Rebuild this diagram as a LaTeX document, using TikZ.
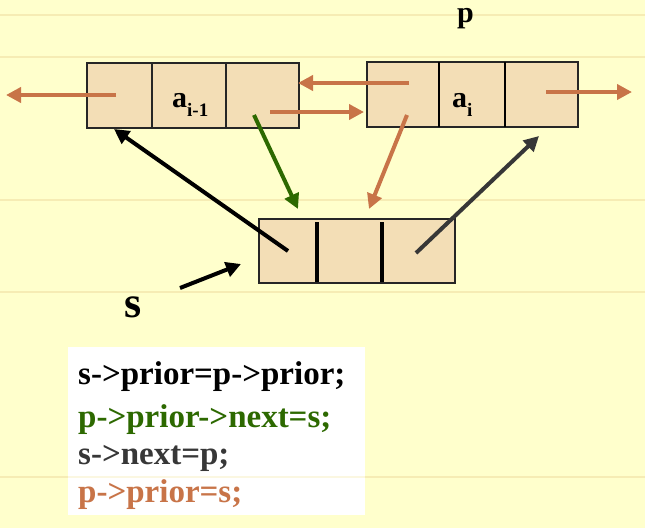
\documentclass[tikz,border=0pt]{standalone}
\usepackage{fontspec}
\setmainfont{Liberation Serif}[BoldFont={Liberation Serif Bold}]
\newfontfamily\tbold{Liberation Serif Bold}
\usetikzlibrary{arrows.meta}
\definecolor{bg}{RGB}{255,255,204}
\definecolor{boxfill}{RGB}{243,222,182}
\definecolor{orng}{RGB}{200,116,72}
\definecolor{grn}{RGB}{45,105,0}
\definecolor{dgray}{RGB}{55,55,55}
\definecolor{rule}{RGB}{246,236,180}
\begin{document}
\begin{tikzpicture}[x=1pt,y=-1pt,
  cell/.style={draw=black!85, line width=1.1pt, fill=boxfill, inner sep=0pt, outer sep=0pt},
  arr/.style={line width=4pt, -{Triangle[length=15pt,width=15pt]}},
  code/.style={anchor=base west, inner sep=0pt, font=\tbold\fontsize{33}{38}\selectfont},
  lbl/.style={anchor=base west, inner sep=0pt, font=\tbold},
  faint/.style={draw=rule, line width=1.5pt}
]
\fill[bg] (0,0) rectangle (645,528);
\useasboundingbox (0,0) rectangle (645,528);

% faint ruled lines
\draw[faint] (0,15) -- (645,15);
\draw[faint] (0,57) -- (645,57);
\draw[faint] (0,200) -- (645,200);
\draw[faint] (0,292) -- (645,292);
\draw[faint] (0,477) -- (645,477);

% node a_{i-1}
\node[cell, minimum width=65pt, minimum height=65pt] (c11) at (119.5,95.5) {};
\node[cell, minimum width=74pt, minimum height=65pt] (c12) at (189,95.5) {};
\node[cell, minimum width=73pt, minimum height=65pt] (c13) at (262.5,95.5) {};
% node a_i
\node[cell, minimum width=72pt, minimum height=65pt] (c21) at (403,94.5) {};
\node[cell, minimum width=66pt, minimum height=65pt] (c22) at (472,94.5) {};
\node[cell, minimum width=73pt, minimum height=65pt] (c23) at (541.5,94.5) {};
\draw[line width=2.6pt] (c21.north east) -- (c21.south east);
\draw[line width=2.6pt] (c22.north east) -- (c22.south east);
% node s
\node[cell, minimum width=196pt, minimum height=64pt] (sbox) at (357,251) {};
\draw[line width=4pt] (317,222) -- (317,282);
\draw[line width=4pt] (382,222) -- (382,282);

% labels
\node[lbl] (ai1) at (172,107) {\fontsize{30}{30}\selectfont a\raisebox{-9pt}{\fontsize{19}{19}\selectfont i-1}};
\node[lbl] (ai) at (452,107) {\fontsize{30}{30}\selectfont a\raisebox{-9pt}{\fontsize{19}{19}\selectfont i}};
\node[lbl] (p) at (457,22) {\fontsize{30}{30}\selectfont p};
\node[lbl] (s) at (124,317) {\fontsize{44}{44}\selectfont s};

% coordinates for arrows
\coordinate (o1s) at (116,95);  \coordinate (o1e) at (6,95);
\coordinate (o2s) at (270,112); \coordinate (o2e) at (364,112);
\coordinate (o3s) at (409,83);  \coordinate (o3e) at (298,83);
\coordinate (o4s) at (546,92);  \coordinate (o4e) at (632,92);
\coordinate (gs) at (254,115);  \coordinate (ge) at (298,209);
\coordinate (o5s) at (407,115); \coordinate (o5e) at (369,209);
\coordinate (bs) at (288,251);  \coordinate (be) at (114,129);
\coordinate (ds) at (416,253);  \coordinate (de) at (539,136);
\coordinate (ps) at (180,288);  \coordinate (pe) at (241,264);

\draw[arr, orng] (o1s) -- (o1e);
\draw[arr, orng] (o2s) -- (o2e);
\draw[arr, orng] (o3s) -- (o3e);
\draw[arr, orng] (o4s) -- (o4e);
\draw[arr, grn] (gs) -- (ge);
\draw[arr, orng] (o5s) -- (o5e);
\draw[arr, black] (bs) -- (be);
\draw[arr, dgray] (ds) -- (de);
\draw[arr, black] (ps) -- (pe);

% code box
\node[fill=white, minimum width=297pt, minimum height=168pt, inner sep=0pt, outer sep=0pt] (codebox) at (216.5,431) {};
\draw[faint, opacity=0.4] (codebox.west |- 0,477) -- (codebox.east |- 0,477);
\node[code, black] (l1) at (78,384) {s->prior=p->prior;};
\node[code, grn] (l2) at (78,427) {p->prior->next=s;};
\node[code, dgray] (l3) at (78,464) {s->next=p;};
\node[code, orng] (l4) at (78,502) {p->prior=s;};
\end{tikzpicture}
\end{document}
